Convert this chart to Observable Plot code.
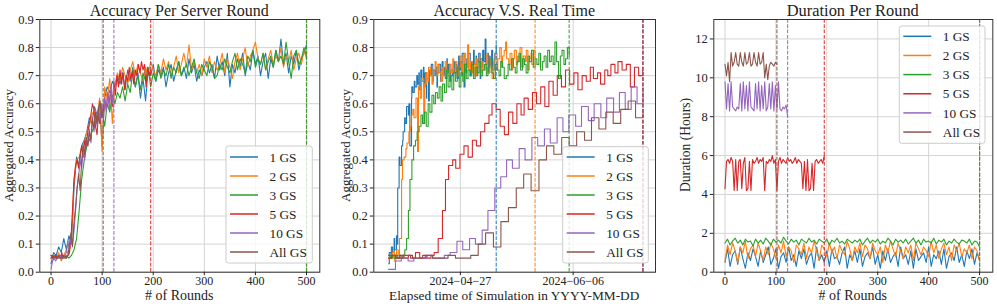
<!DOCTYPE html>
<html><head><meta charset="utf-8">
<script src="https://cdn.jsdelivr.net/npm/d3@7"></script>
<script src="https://cdn.jsdelivr.net/npm/@observablehq/plot@0.6"></script>
<style>
body{margin:0;background:#fff;}
#wrap{position:relative;width:997px;height:306px;overflow:hidden;background:#fff;}
#wrap > svg{position:absolute;top:0;}
</style></head><body><div id="wrap"></div>
<script>
// ---------------- data ----------------
const seriesNames = ["1 GS", "2 GS", "3 GS", "5 GS", "10 GS", "All GS"];
const seriesColors = ["#1f77b4", "#ff7f0e", "#2ca02c", "#d62728", "#9467bd", "#8c564b"];
const roundStep = [5, 5, 5, 3, 3, 3];

const acc1GS = [0.03,0.07,0.06,0.09,0.07,0.12,0.08,0.13,0.10,0.30,
0.41,0.38,0.45,0.47,0.50,0.55,0.53,0.59,0.56,0.60,
0.45,0.62,0.66,0.64,0.68,0.66,0.70,0.67,0.71,0.65,
0.72,0.68,0.73,0.66,0.71,0.62,0.69,0.61,0.72,0.70,
0.74,0.68,0.72,0.70,0.73,0.66,0.71,0.74,0.68,0.72,
0.75,0.70,0.73,0.69,0.76,0.71,0.74,0.68,0.72,0.70,
0.73,0.75,0.71,0.74,0.69,0.77,0.72,0.75,0.70,0.78,
0.66,0.74,0.71,0.76,0.73,0.78,0.70,0.75,0.72,0.79,
0.74,0.77,0.70,0.75,0.78,0.69,0.76,0.73,0.79,0.75,
0.83,0.74,0.78,0.71,0.77,0.74,0.79,0.72,0.76,0.78,
0.81];
const acc2GS = [0.05,0.06,0.05,0.07,0.04,0.06,0.08,0.06,0.12,0.33,
0.40,0.41,0.44,0.46,0.50,0.52,0.56,0.58,0.55,0.62,
0.43,0.66,0.62,0.69,0.53,0.67,0.71,0.68,0.73,0.70,
0.67,0.72,0.75,0.70,0.74,0.71,0.68,0.73,0.70,0.75,
0.72,0.70,0.74,0.71,0.76,0.72,0.75,0.70,0.73,0.77,
0.71,0.74,0.78,0.73,0.81,0.72,0.75,0.71,0.74,0.70,
0.76,0.73,0.77,0.71,0.75,0.72,0.74,0.78,0.71,0.76,
0.73,0.69,0.75,0.78,0.72,0.76,0.80,0.73,0.77,0.79,
0.82,0.76,0.74,0.78,0.72,0.76,0.79,0.74,0.77,0.75,
0.80,0.73,0.77,0.75,0.79,0.72,0.76,0.78,0.74,0.79,
0.76];
const acc3GS = [0.06,0.05,0.06,0.05,0.06,0.05,0.06,0.05,0.06,0.08,
0.12,0.22,0.33,0.40,0.45,0.47,0.50,0.52,0.56,0.53,
0.57,0.52,0.60,0.57,0.63,0.60,0.64,0.62,0.66,0.61,
0.67,0.64,0.72,0.66,0.70,0.65,0.71,0.68,0.73,0.66,
0.71,0.68,0.74,0.69,0.72,0.70,0.74,0.69,0.73,0.71,
0.75,0.70,0.72,0.74,0.70,0.73,0.76,0.71,0.69,0.74,
0.72,0.70,0.75,0.73,0.69,0.70,0.74,0.72,0.76,0.73,
0.71,0.75,0.78,0.72,0.76,0.74,0.71,0.77,0.75,0.79,
0.73,0.76,0.74,0.78,0.72,0.75,0.77,0.73,0.79,0.75,
0.77,0.74,0.82,0.75,0.69,0.77,0.79,0.74,0.76,0.80,
0.77];
const acc5GS = [0.05,0.06,0.05,0.06,0.05,0.06,0.05,0.07,0.05,0.06,
0.05,0.06,0.07,0.12,0.22,0.33,0.38,0.40,0.37,0.42,
0.45,0.41,0.47,0.45,0.50,0.53,0.56,0.60,0.58,0.52,
0.49,0.57,0.53,0.60,0.56,0.62,0.58,0.64,0.60,0.66,
0.59,0.68,0.63,0.70,0.66,0.72,0.67,0.71,0.65,0.70,
0.68,0.73,0.69,0.71,0.67,0.72,0.70,0.74,0.71,0.75,
0.72,0.74,0.66,0.73,0.70,0.72];
const acc10GS = [0.01,0.04,0.05,0.04,0.05,0.05,0.06,0.05,0.05,0.06,
0.07,0.11,0.08,0.12,0.10,0.15,0.22,0.30,0.34,0.40,
0.37,0.44,0.40,0.48,0.45,0.51,0.46,0.55,0.50,0.56,
0.52,0.59,0.54,0.60,0.55,0.62,0.57,0.64,0.58,0.66,
0.60,0.66];
const accAllGS = [0.06,0.05,0.06,0.05,0.05,0.06,0.05,0.05,0.06,0.05,
0.05,0.06,0.10,0.14,0.09,0.18,0.23,0.30,0.35,0.29,
0.40,0.45,0.42,0.48,0.45,0.50,0.47,0.55,0.51,0.57,
0.53,0.58,0.61,0.55,0.58];

const dur1GS = [0.5,1.2,0.3,0.9,1.1,0.4,1.3,0.7,0.2,1.0,
0.6,1.2,0.8,0.3,1.1,0.5,0.9,1.3,0.4,0.7,
1.2,0.2,0.8,1.0,0.5,1.3,0.6,0.9,0.3,1.1,
0.7,1.2,0.4,0.8,1.0,0.2,1.3,0.6,0.9,0.5,
1.1,0.3,1.2,0.7,0.8,0.4,1.0,1.3,0.2,0.9,
0.6,1.1,0.5,1.2,0.3,0.8,1.0,0.7,1.3,0.4,
0.9,0.2,1.1,0.6,1.2,0.5,0.8,1.0,0.3,1.3,
0.7,0.9,0.4,1.1,0.2,1.2,0.6,0.8,1.0,0.5,
1.3,0.3,0.9,0.7,1.1,0.4,1.2,0.2,0.8,1.0,
0.6,1.3,0.5,0.9,0.3,1.1,0.7,1.2,0.4,1.0,
0.6];
const dur2GS = [0.6,1.4,0.9,1.5,1.1,0.5,1.3,1.0,1.6,0.7,
1.2,1.4,0.8,1.5,1.1,0.6,1.3,0.9,1.5,1.2,
0.7,1.4,1.0,1.6,0.8,1.3,1.1,0.5,1.4,1.2,
0.9,1.5,0.7,1.3,1.0,1.6,1.1,0.6,1.4,1.2,
0.8,1.5,1.0,1.3,0.7,1.4,1.1,0.9,1.6,1.2,
0.6,1.3,1.0,1.5,0.8,1.4,1.2,0.7,1.5,1.1,
0.9,1.3,0.5,1.4,1.0,1.6,1.2,0.8,1.5,1.1,
0.7,1.3,1.0,1.4,0.6,1.5,1.2,0.9,1.3,1.1,
0.8,1.6,1.0,1.4,0.7,1.2,1.5,0.9,1.3,0.6,
1.4,1.1,1.5,0.8,1.2,1.0,1.4,0.7,1.3,1.1,
0.6];
const dur3GS = [1.5,1.7,1.4,1.6,1.75,1.5,1.65,1.4,1.7,1.55,
1.6,1.35,1.7,1.5,1.65,1.45,1.75,1.6,1.4,1.7,
1.55,1.65,1.5,1.8,1.6,1.45,1.7,1.55,1.65,1.4,
1.7,1.6,1.5,1.75,1.55,1.65,1.45,1.7,1.6,1.5,
1.7,1.4,1.65,1.55,1.75,1.5,1.6,1.45,1.7,1.6,
1.5,1.65,1.55,1.7,1.4,1.6,1.75,1.5,1.65,1.55,
1.7,1.45,1.6,1.5,1.75,1.6,1.4,1.7,1.55,1.65,
1.5,1.7,1.45,1.6,1.75,1.5,1.65,1.4,1.7,1.55,
1.6,1.5,1.75,1.45,1.65,1.55,1.7,1.4,1.6,1.5,
1.7,1.55,1.45,1.65,1.6,1.5,1.7,1.4,1.6,1.55,
1.3];
const dur5GS = [4.3,5.7,5.8,5.6,5.9,5.7,4.2,5.8,4.2,5.7,
5.8,4.3,5.6,5.9,4.2,4.3,5.7,4.2,5.8,5.6,
5.7,5.9,5.6,5.8,5.7,5.9,4.2,5.7,5.6,5.8,
5.7,6.0,5.6,5.8,4.2,5.7,5.9,5.6,5.8,5.7,
5.6,5.9,5.7,5.8,5.6,5.7,5.9,5.6,5.8,5.7,
5.6,4.3,5.7,4.2,5.8,4.2,4.3,5.6,4.2,5.7,
5.8,5.6,5.7,5.8,5.6,6.0];
const dur10GS = [9.8,8.4,9.7,8.3,9.8,8.5,8.4,8.3,8.5,8.4,
9.7,8.3,9.8,8.4,9.6,8.3,9.8,8.5,8.4,8.3,
9.7,8.4,9.8,8.3,9.6,8.4,9.8,8.3,8.5,9.7,
8.4,9.8,8.3,9.6,8.4,9.8,8.4,8.3,8.5,8.4,
8.6,8.0];
const durAllGS = [10.7,10.1,10.8,9.8,11.3,10.6,10.8,11.3,10.7,10.6,
11.3,10.8,10.6,11.3,10.7,10.8,11.3,10.6,10.7,11.3,
10.8,10.6,11.3,10.7,10.8,11.3,10.0,10.7,9.9,10.6,
10.8,10.7,10.6,10.8,10.7];

const startDate = "2024-04-01T13:00Z";
const endDates = ["2024-05-09T17:00Z", "2024-05-23T12:00Z", "2024-06-04T14:00Z",
                  "2024-06-30T16:00Z", "2024-06-30T19:00Z", "2024-06-30T19:00Z"];

const roundTicks = [0, 100, 200, 300, 400, 500];
const accTicks = [0, 0.1, 0.2, 0.3, 0.4, 0.5, 0.6, 0.7, 0.8, 0.9];
const durTicks = [0, 2, 4, 6, 8, 10, 12];
const dateTicks = ["2024-04-27T00:00Z", "2024-06-06T00:00Z"];

const titles = ["Accuracy Per Server Round", "Accuracy V.S. Real Time", "Duration Per Round"];
const xLabels = ["# of Rounds", "Elapsed time of Simulation in YYYY-MM-DD", "# of Rounds"];
const yLabels = ["Aggregated Accuracy", "Aggregated Accuracy", "Duration (Hours)"];

// ---------------- build tables ----------------
const accData = [acc1GS, acc2GS, acc3GS, acc5GS, acc10GS, accAllGS];
const durData = [dur1GS, dur2GS, dur3GS, dur5GS, dur10GS, durAllGS];

const series = seriesNames.map((name, s) => {
  const a = accData[s], d = durData[s];
  const t0 = +new Date(startDate), t1 = +new Date(endDates[s]);
  const cum = [0];
  for (let i = 1; i < d.length; i++) cum.push(cum[i - 1] + d[i - 1]);
  const total = cum[cum.length - 1];
  const rows = a.map((v, i) => ({
    series: name, round: i * roundStep[s], acc: v, dur: d[i],
    time: new Date(t0 + (cum[i] / total) * (t1 - t0))
  }));
  return {name, color: seriesColors[s], rows,
          endRound: (a.length - 1) * roundStep[s], endTime: new Date(endDates[s])};
});

// ---------------- plotting ----------------
const fontFamily = '"Liberation Serif", "DejaVu Serif", serif';
const gridStroke = "#d4d4d4";
const dash = "3.7,1.6";

function commonStyle() {
  return {fontFamily, fontSize: "12.5px", color: "#222", background: "transparent", overflow: "visible"};
}
const xAxisOpts = {tickSize: 3.5, tickPadding: 1.2, label: null, fontSize: 12};

const p1 = Plot.plot({
  width: 330, height: 306,
  marginLeft: 39.3, marginRight: 10.7, marginTop: 19, marginBottom: 34.3,
  style: commonStyle(),
  x: {domain: [-22, 526]},
  y: {domain: [0, 0.9]},
  marks: [
    Plot.gridX({ticks: roundTicks, stroke: gridStroke, strokeOpacity: 1}),
    Plot.gridY({ticks: accTicks, stroke: gridStroke, strokeOpacity: 1}),
    ...series.map(S => Plot.line(S.rows, {x: "round", y: "acc", stroke: S.color, strokeWidth: 1.1})),
    ...series.map(S => Plot.ruleX([S.endRound], {stroke: S.color, strokeDasharray: dash, strokeWidth: 1.1, strokeOpacity: 0.9})),
    Plot.frame({stroke: "#333"}),
    Plot.axisX({ticks: roundTicks, ...xAxisOpts}),
    Plot.axisY({ticks: accTicks, tickSize: 3.5, tickPadding: 2.5, tickFormat: ".1f", label: null})
  ]
});

const p2 = Plot.plot({
  width: 330, height: 306,
  marginLeft: 43.3, marginRight: 5, marginTop: 19, marginBottom: 34.3,
  style: commonStyle(),
  x: {type: "utc", domain: [new Date("2024-03-27T07:00Z"), new Date("2024-07-05T05:00Z")]},
  y: {domain: [0, 0.9]},
  marks: [
    Plot.gridX({ticks: dateTicks.map(d => new Date(d)), stroke: gridStroke, strokeOpacity: 1}),
    Plot.gridY({ticks: accTicks, stroke: gridStroke, strokeOpacity: 1}),
    ...series.map(S => Plot.line(S.rows, {x: "time", y: "acc", stroke: S.color, strokeWidth: 1.1, curve: "step-after"})),
    ...series.map(S => Plot.ruleX([S.endTime], {stroke: S.color, strokeDasharray: dash, strokeWidth: 1.1, strokeOpacity: 0.9})),
    Plot.frame({stroke: "#333"}),
    Plot.axisX({ticks: dateTicks.map(d => new Date(d)), ...xAxisOpts,
                tickFormat: d => d3.utcFormat("%Y\u2212%m\u2212%d")(d)}),
    Plot.axisY({ticks: accTicks, tickSize: 3.5, tickPadding: 2.5, tickFormat: ".1f", label: null})
  ]
});

const p3 = Plot.plot({
  width: 337, height: 306,
  marginLeft: 53.3, marginRight: 4.7, marginTop: 19, marginBottom: 34.3,
  style: commonStyle(),
  x: {domain: [-22, 526]},
  y: {domain: [0, 13]},
  marks: [
    Plot.gridX({ticks: roundTicks, stroke: gridStroke, strokeOpacity: 1}),
    Plot.gridY({ticks: durTicks, stroke: gridStroke, strokeOpacity: 1}),
    ...series.map(S => Plot.line(S.rows, {x: "round", y: "dur", stroke: S.color, strokeWidth: 1.1})),
    ...series.map(S => Plot.ruleX([S.endRound], {stroke: S.color, strokeDasharray: dash, strokeWidth: 1.1, strokeOpacity: 0.9})),
    Plot.frame({stroke: "#333"}),
    Plot.axisX({ticks: roundTicks, ...xAxisOpts}),
    Plot.axisY({ticks: durTicks, tickSize: 3.5, tickPadding: 2.5, label: null})
  ]
});

const wrap = document.getElementById("wrap");
[[p1, 0], [p2, 330], [p3, 660]].forEach(([p, left]) => {
  p.style.position = "absolute"; p.style.left = left + "px"; p.style.top = "0px";
  wrap.appendChild(p);
});

// ---------------- titles, axis labels and legends (text overlay) ----------------
function legend(x0, y0, w, h, cy0, step) {
  let s = `<rect x="${x0}" y="${y0}" width="${w}" height="${h}" rx="2.5" fill="#fff" fill-opacity="0.8" stroke="#cccccc" stroke-width="1"/>`;
  seriesNames.forEach((n, i) => {
    const cy = cy0 + i * step;
    s += `<line x1="${x0 + 4}" x2="${x0 + 32}" y1="${cy}" y2="${cy}" stroke="${seriesColors[i]}" stroke-width="1.5"/>`;
    s += `<text x="${x0 + 43.5}" y="${cy + 4.6}" font-size="13.3">${n}</text>`;
  });
  return s;
}
const ov = document.createElementNS("http://www.w3.org/2000/svg", "svg");
ov.setAttribute("width", 997); ov.setAttribute("height", 306);
ov.style.position = "absolute"; ov.style.left = "0px"; ov.style.top = "0px";
ov.style.fontFamily = fontFamily; ov.style.pointerEvents = "none";
const cx = [179.3, 514.2, 852.8];
ov.innerHTML = `<g fill="#222">
  <text x="${cx[0]}" y="15.5" font-size="16" text-anchor="middle">${titles[0]}</text>
  <text x="${cx[1]}" y="15.5" font-size="16" text-anchor="middle">${titles[1]}</text>
  <text x="${cx[2]}" y="15.5" font-size="16.4" text-anchor="middle">${titles[2]}</text>
  <text x="${cx[0]}" y="300" font-size="14" text-anchor="middle">${xLabels[0]}</text>
  <text x="${cx[1]}" y="300" font-size="13.3" text-anchor="middle">${xLabels[1]}</text>
  <text x="${cx[2]}" y="300" font-size="14" text-anchor="middle">${xLabels[2]}</text>
  <text transform="translate(13,145.5) rotate(-90)" font-size="13" text-anchor="middle">${yLabels[0]}</text>
  <text transform="translate(350.3,145.5) rotate(-90)" font-size="13" text-anchor="middle">${yLabels[1]}</text>
  <text transform="translate(690,145) rotate(-90)" font-size="13.6" text-anchor="middle">${yLabels[2]}</text>
  ${legend(226, 146, 86.3, 117, 157, 19)}
  ${legend(562.7, 146.7, 85.6, 116.3, 157, 19)}
  ${legend(899.3, 26, 85.7, 117.3, 36.3, 19.15)}
</g>`;
wrap.appendChild(ov);
</script></body></html>
